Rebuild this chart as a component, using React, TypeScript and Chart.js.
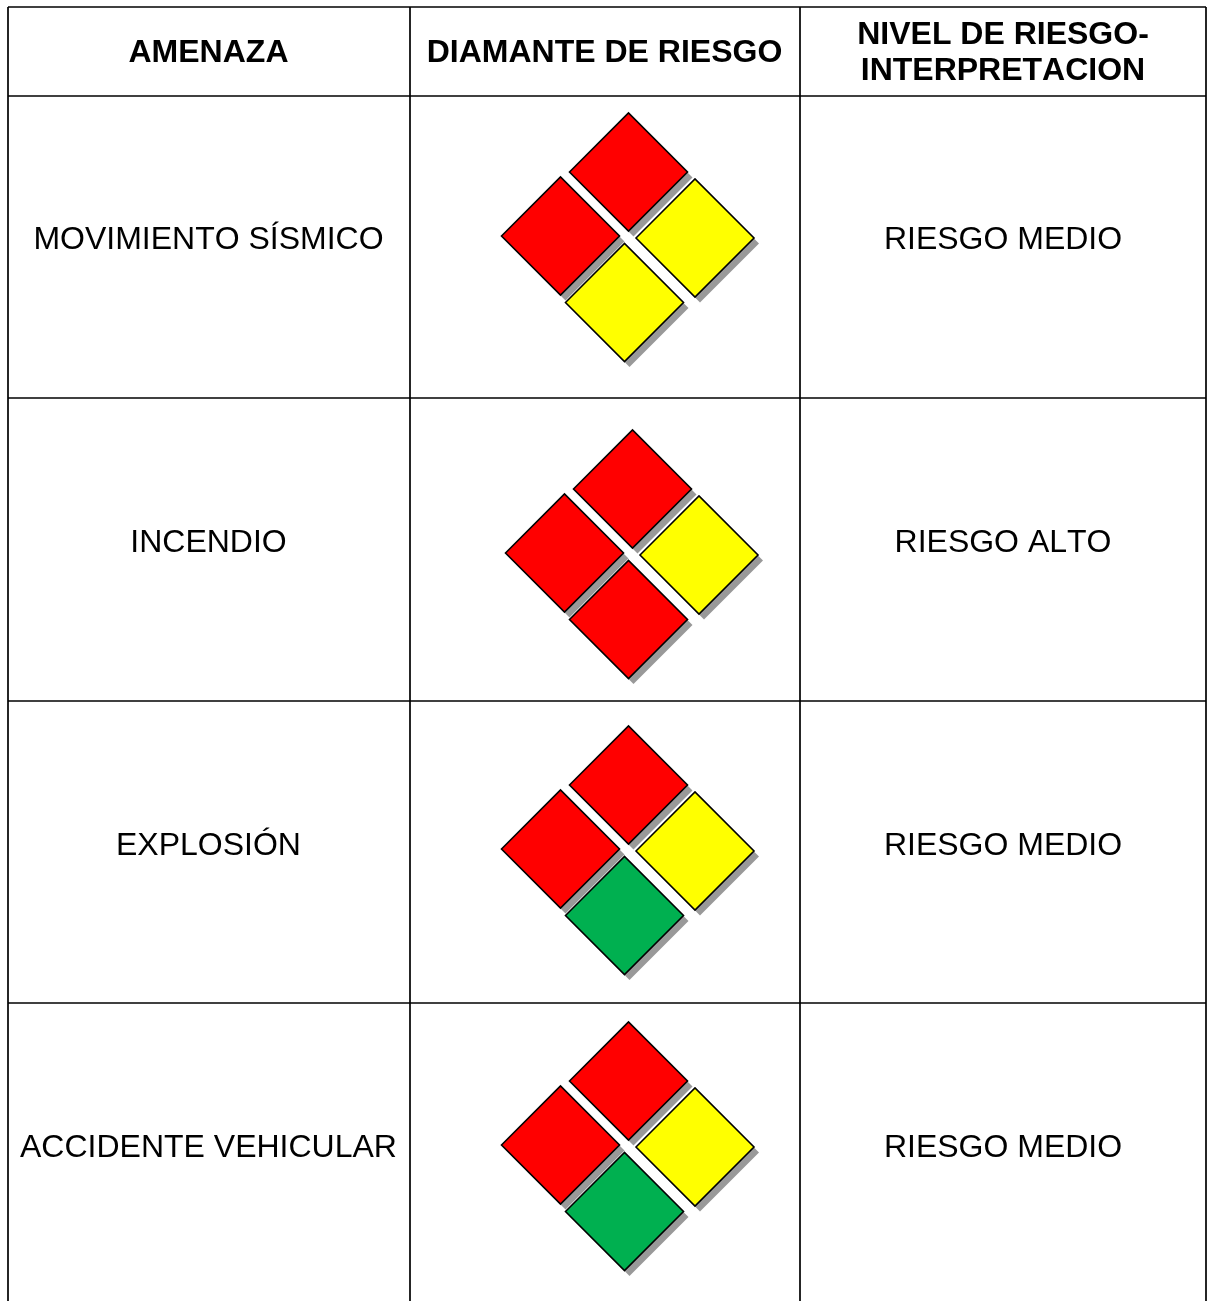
import React, { useEffect, useRef } from "react";
import { Chart, registerables } from "chart.js";

Chart.register(...registerables);

const WIDTH = 1207;
const HEIGHT = 1301;

const headers = [["AMENAZA"], ["DIAMANTE DE RIESGO"], ["NIVEL DE RIESGO-", "INTERPRETACION"]];
const threats = ["MOVIMIENTO SÍSMICO", "INCENDIO", "EXPLOSIÓN", "ACCIDENTE VEHICULAR"];
const riskLevels = ["RIESGO MEDIO", "RIESGO ALTO", "RIESGO MEDIO", "RIESGO MEDIO"];

const RED = "#ff0000";
const YELLOW = "#ffff00";
const GREEN = "#00b050";

// colours per row: top, left, right, bottom quadrant
const topColors = [RED, RED, RED, RED];
const leftColors = [RED, RED, RED, RED];
const rightColors = [YELLOW, YELLOW, YELLOW, YELLOW];
const bottomColors = [YELLOW, RED, GREEN, GREEN];

// quadrant centres relative to a diamond's origin
const quadX = [628.5, 560.5, 695, 624.5];
const quadY = [172, 236, 238, 302.5];
// origin shift of each row's diamond
const rowShiftX = [0, 4, 0, 0];
const rowShiftY = [0, 317, 613, 909];

// table grid
const colLines = [8, 410, 800, 1206];
const rowLines = [7, 96, 398, 701, 1003];
const rowTextY = [237, 540, 843, 1145];
const colTextX = [208.5, 604.5, 1003];

const points = rowShiftX.flatMap((sx, r) =>
  quadX.map((qx, q) => ({ x: qx + sx, y: quadY[q] + rowShiftY[r] }))
);
const pointColors = rowShiftX.flatMap((_, r) => [
  topColors[r],
  leftColors[r],
  rightColors[r],
  bottomColors[r],
]);

const textPlugin = {
  id: "tableText",
  afterDatasetsDraw(chart: any) {
    const { ctx, scales } = chart;
    const sx = scales.x;
    const sy = scales.y;
    ctx.save();
    ctx.fillStyle = "#000000";
    ctx.textAlign = "center";
    ctx.textBaseline = "alphabetic";
    ctx.fontKerning = "none";
    ctx.font = 'bold 32px "Liberation Sans", Arial, sans-serif';
    headers.forEach((lines, c) => {
      const ys = lines.length === 1 ? [62] : [44, 80];
      lines.forEach((line, i) => {
        ctx.fillText(line, sx.getPixelForValue(colTextX[c]), sy.getPixelForValue(ys[i]));
      });
    });
    ctx.font = '32px "Liberation Sans", Arial, sans-serif';
    threats.forEach((t, r) => {
      ctx.fillText(t, sx.getPixelForValue(colTextX[0]), sy.getPixelForValue(rowTextY[r] + 12));
      ctx.fillText(riskLevels[r], sx.getPixelForValue(colTextX[2]), sy.getPixelForValue(rowTextY[r] + 12));
    });
    ctx.restore();
  },
};

export default function App() {
  const ref = useRef<HTMLCanvasElement | null>(null);

  useEffect(() => {
    if (!ref.current) return;
    const lineBase = {
      type: "line" as const,
      showLine: true,
      borderColor: "#000000",
      borderWidth: 1.7,
      pointRadius: 0,
      order: 3,
      clip: false,
    };
    const verticals = colLines.map((x) => ({
      ...lineBase,
      data: [
        { x, y: rowLines[0] },
        { x, y: HEIGHT },
      ],
    }));
    const horizontals = rowLines.map((y) => ({
      ...lineBase,
      data: [
        { x: colLines[0], y },
        { x: colLines[colLines.length - 1], y },
      ],
    }));
    const chart = new Chart(ref.current, {
      type: "scatter",
      data: {
        datasets: [
          ...verticals,
          ...horizontals,
          {
            label: "shadow",
            order: 2,
            clip: false,
            data: points.map((p) => ({ x: p.x + 5, y: p.y + 5.5 })),
            pointStyle: "rectRot",
            pointRadius: 59,
            pointBackgroundColor: "#999999",
            pointBorderColor: "#999999",
            pointBorderWidth: 0,
          },
          {
            label: "diamond",
            order: 1,
            clip: false,
            data: points,
            pointStyle: "rectRot",
            pointRadius: 59,
            pointBackgroundColor: pointColors,
            pointBorderColor: "#000000",
            pointBorderWidth: 1.6,
          },
        ] as any,
      },
      options: {
        responsive: false,
        animation: false,
        layout: { padding: 0, autoPadding: false },
        plugins: { legend: { display: false }, tooltip: { enabled: false }, title: { display: false } },
        scales: {
          x: { type: "linear", display: false, min: 0, max: WIDTH },
          y: { type: "linear", display: false, min: 0, max: HEIGHT, reverse: true },
        },
      },
      plugins: [textPlugin],
    });
    return () => chart.destroy();
  }, []);

  return (
    <canvas
      ref={ref}
      width={WIDTH}
      height={HEIGHT}
      style={{ position: "absolute", left: 0, top: 0, display: "block", background: "#ffffff" }}
    />
  );
}
